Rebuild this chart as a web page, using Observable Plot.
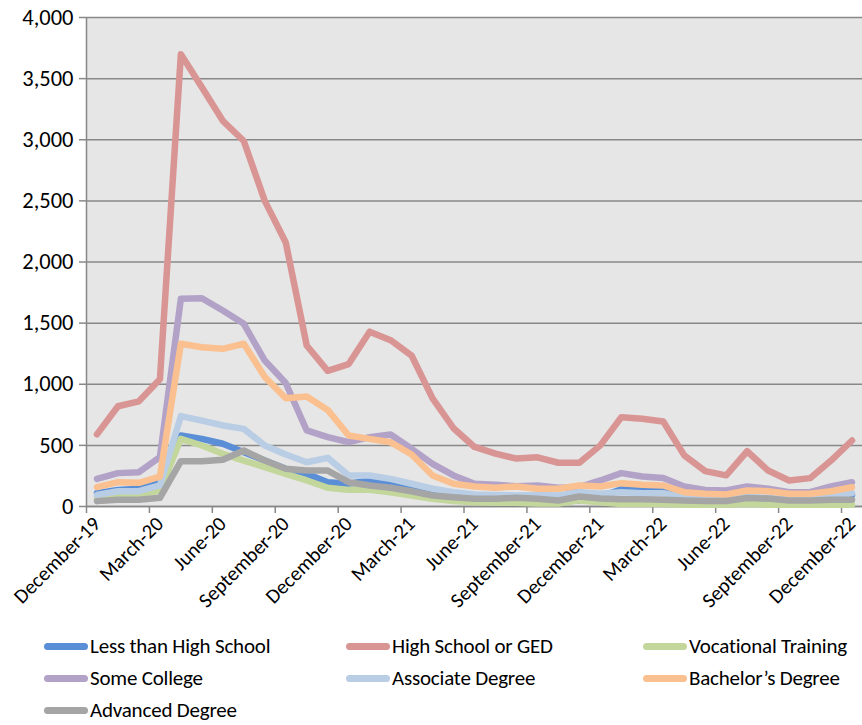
<!DOCTYPE html>
<html>
<head>
<meta charset="utf-8">
<script src="https://cdn.jsdelivr.net/npm/d3@7"></script>
<script src="https://cdn.jsdelivr.net/npm/@observablehq/plot@0.6"></script>
<style>
  html, body { margin: 0; padding: 0; background: #fff; }
  body { width: 862px; height: 725px; overflow: hidden; font-family: Carlito, Lato, "Open Sans", sans-serif; }
  #chart svg { display: block; }
  #legend { display: grid; grid-template-columns: 302px 297px 220px; row-gap: 12px; margin-left: 44px; margin-top: 4px; }
  .item { display: flex; align-items: center; font-size: 21px; line-height: 20px; color: #000; height: 20px; white-space: nowrap; letter-spacing: -0.2px; }
  .sw { width: 44px; height: 7px; border-radius: 4px; margin-right: 2px; }
</style>
</head>
<body>
<div id="chart"></div>
<div id="legend"></div>
<script>
const months = ["December-19","January-20","February-20","March-20","April-20","May-20","June-20","July-20","August-20","September-20","October-20","November-20","December-20","January-21","February-21","March-21","April-21","May-21","June-21","July-21","August-21","September-21","October-21","November-21","December-21","January-22","February-22","March-22","April-22","May-22","June-22","July-22","August-22","September-22","October-22","November-22","December-22"];

const seriesNames = ["Less than High School","High School or GED","Vocational Training","Some College","Associate Degree","Bachelor\u2019s Degree","Advanced Degree"];
const seriesColors = ["#5a8fd8","#d99594","#c3d69b","#b3a2c7","#b9cde5","#fac090","#a5a5a5"];

const lessThanHS = [109,136,145,199,581,553,513,444,376,308,267,199,186,213,186,153,117,76,55,44,35,44,44,50,80,140,135,130,80,60,40,30,30,20,30,60,95];
const highSchool = [590,820,860,1040,3700,3430,3155,2990,2500,2160,1317,1110,1165,1430,1360,1235,885,640,487,433,392,402,358,357,500,730,718,695,418,289,255,452,294,213,232,376,540];
const vocational = [70,90,100,130,553,499,431,376,322,267,213,153,136,136,117,90,63,44,35,30,30,25,25,50,35,20,20,20,15,15,15,20,15,15,15,15,15];
const someCollege = [226,273,281,404,1699,1704,1603,1494,1194,1010,622,567,526,567,589,472,349,254,186,177,166,172,153,158,213,273,245,234,164,136,131,164,145,117,117,164,199];
const associate = [95,125,125,172,739,703,663,635,499,425,362,398,254,254,226,186,145,117,98,95,90,95,90,117,104,117,108,108,76,63,58,80,70,55,60,80,110];
const bachelors = [158,199,194,245,1331,1303,1290,1331,1060,885,900,790,581,553,526,425,254,186,164,153,164,145,145,172,164,191,177,172,117,104,98,131,125,104,104,125,158];
const advanced = [44,55,55,71,371,371,382,458,376,308,294,294,199,172,153,125,90,76,63,63,71,63,49,82,65,60,60,55,50,45,45,70,65,50,50,55,55];

const yTicks = [0,500,1000,1500,2000,2500,3000,3500,4000];

const allSeries = [lessThanHS, highSchool, vocational, someCollege, associate, bachelors, advanced];
const data = [];
allSeries.forEach((vals, s) => vals.forEach((v, i) => data.push({series: seriesNames[s], i, value: v})));

const idx = months.map((m, i) => i);
const labelIdx = idx.filter(i => i % 3 === 0);
const boundaryIdx = labelIdx.map(i => i - 0.5);

const chart = Plot.plot({
  width: 862,
  height: 632,
  marginLeft: 86,
  marginRight: 0,
  marginTop: 17,
  marginBottom: 126,
  style: {fontFamily: "Carlito, Lato, 'Open Sans', sans-serif", fontSize: "21px", color: "#000", background: "#fff"},
  x: {type: "linear", domain: [-0.5, months.length - 0.5], axis: null},
  y: {domain: [0, 4000], axis: null},
  color: {domain: seriesNames, range: seriesColors},
  marks: [
    Plot.frame({fill: "#e6e6e6", stroke: null}),
    Plot.gridY(yTicks, {stroke: "#888", strokeOpacity: 1, strokeWidth: 1.5}),
    Plot.ruleY([0], {stroke: "#888", strokeWidth: 1.5}),
    Plot.ruleX([-0.5], {stroke: "#888", strokeWidth: 1.5}),
    Plot.axisY({ticks: yTicks, tickSize: 7, tickPadding: 6, tickFormat: d3.format(","), stroke: "#888", strokeWidth: 1.5, label: null, fontSize: 22.5}),
    Plot.axisX({ticks: boundaryIdx, tickSize: 7, tickFormat: () => "", stroke: "#888", strokeWidth: 1.5, label: null}),
    Plot.axisX({ticks: labelIdx, tickSize: 0, tickPadding: 14, tickRotate: -45, tickFormat: i => months[i], label: null, fontSize: 20.5}),
    Plot.line(data, {x: "i", y: "value", z: "series", stroke: "series", strokeWidth: 6.5, strokeLinecap: "round", strokeLinejoin: "round"})
  ]
});
document.getElementById("chart").appendChild(chart);

const legend = document.getElementById("legend");
seriesNames.forEach((name, k) => {
  const item = document.createElement("div");
  item.className = "item";
  const sw = document.createElement("div");
  sw.className = "sw";
  sw.style.background = seriesColors[k];
  const t = document.createElement("span");
  t.textContent = name;
  item.appendChild(sw);
  item.appendChild(t);
  legend.appendChild(item);
});
</script>
</body>
</html>
